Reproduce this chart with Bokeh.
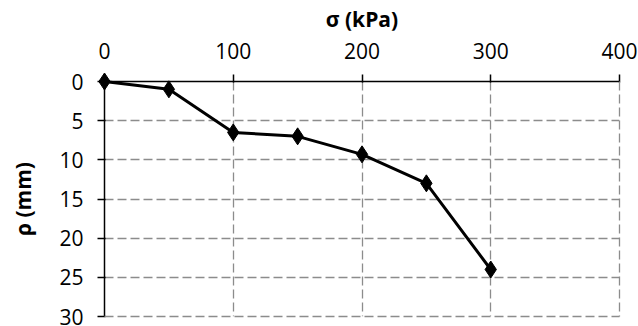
from bokeh.plotting import figure
from bokeh.models import Range1d, FixedTicker
from bokeh.embed import file_html
from bokeh.resources import INLINE

sigma = [0, 50, 100, 150, 200, 250, 300]
rho = [0, 1.0, 6.5, 7.0, 9.3, 13.0, 24.0]
x_ticks = [0, 100, 200, 300, 400]
y_ticks = [0, 5, 10, 15, 20, 25, 30]

FONT = "Open Sans"
GRID_COLOR = "#8c8c8c"

p = figure(width=638, height=326, output_backend="svg", toolbar_location=None,
           x_axis_location="above",
           x_range=Range1d(x_ticks[0], x_ticks[-1]),
           y_range=Range1d(y_ticks[-1], y_ticks[0]),
           min_border_left=104, min_border_right=19, min_border_top=81, min_border_bottom=10)
p.outline_line_color = None
p.background_fill_color = "white"
p.border_fill_color = "white"

for ax, ticks in ((p.xaxis, x_ticks), (p.yaxis, y_ticks)):
    ax.ticker = FixedTicker(ticks=ticks)
    ax.major_label_text_font = FONT
    ax.major_label_text_font_size = "21px"
    ax.major_label_text_color = "black"
    ax.axis_label_text_font = FONT
    ax.axis_label_text_font_size = "21px"
    ax.axis_label_text_font_style = "bold"
    ax.axis_label_text_color = "black"
    ax.axis_line_color = "black"
    ax.axis_line_width = 1.5
    ax.major_tick_line_color = "black"
    ax.major_tick_line_width = 1.5
    ax.major_tick_out = 7
    ax.major_tick_in = 1
    ax.minor_tick_line_color = None

p.xaxis.axis_label = "σ (kPa)"
p.yaxis.axis_label = "ρ (mm)"
p.xaxis.major_label_standoff = 16
p.yaxis.major_label_standoff = 14
p.xaxis.axis_label_standoff = 7
p.yaxis.axis_label_standoff = 19

for g, ticks in ((p.xgrid, x_ticks), (p.ygrid, y_ticks)):
    g.ticker = FixedTicker(ticks=ticks)
    g.grid_line_color = GRID_COLOR
    g.grid_line_width = 1.3
    g.grid_line_dash = "9 4"

# gridlines at the outer ticks (right and bottom edges), drawn unclipped
p.segment(x0=[x_ticks[-1], x_ticks[0]], y0=[y_ticks[0], y_ticks[-1]],
          x1=[x_ticks[-1], x_ticks[-1]], y1=[y_ticks[-1], y_ticks[-1]],
          line_color=GRID_COLOR, line_width=1.3, line_dash="9 4", level="overlay")

p.line(sigma, rho, line_color="black", line_width=3, level="overlay")
p.scatter(sigma, rho, marker="diamond", size=17, fill_color="black", line_color="black",
          level="overlay")

open("out.html", "w").write(file_html(p, INLINE))
